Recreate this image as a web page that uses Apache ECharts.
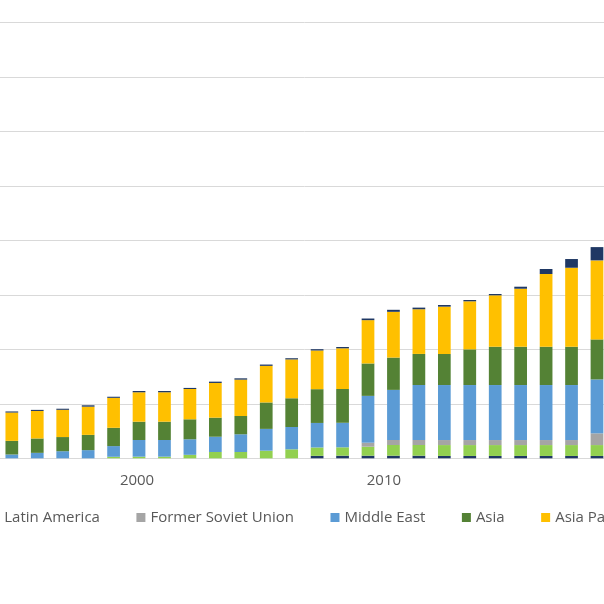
<!DOCTYPE html>
<html>
<head>
<meta charset="utf-8">
<script src="https://cdn.jsdelivr.net/npm/echarts@6/dist/echarts.min.js"></script>
<style>
  html, body { margin: 0; padding: 0; width: 604px; height: 604px; overflow: hidden; background: #ffffff; }
  #chart { position: absolute; left: -200px; top: 0; width: 1400px; height: 604px; }
</style>
</head>
<body>
<div id="chart"></div>
<script>
const years = ['1995','1996','1997','1998','1999','2000','2001','2002','2003','2004','2005','2006',
               '2007','2008','2009','2010','2011','2012','2013','2014','2015','2016','2017','2018'];
const shownYearLabels = ['2000', '2010'];

const europe       = [0,0,0,0,0,0,0,0,0,0,0,0, 4.5,4.8,4.8,4.8,4.8,4.3,4.3,4.3,4.3,4.3,4.3,4.3];
const latinAmerica = [0,0,0,0,2.8,3,3,6.4,11.6,11.6,14,16.5, 15.4,15.4,16.5,19.6,19.6,20,20,20,20,20,20,20];
const formerSoviet = [0,0,0,0,0,0,0,0,0,0,0,0, 0,0,7.3,9.2,9.2,9.2,9.2,9.2,9.2,9.2,9.2,21.5];
const middleEast   = [7,10,13,15,19.6,30.6,30.6,28.5,28,32.5,40,41, 45,45,86,92,101,101,101,101,101,101,101,99];
const asia         = [25,26.4,26,28,33.6,33.6,33.6,36.7,35,33.6,48.5,52.7, 62,62,59.5,59.3,57,57,65.5,70.3,70.3,70.3,70.3,73.5];
const asiaPacific  = [52,50.5,50,51.8,55,54,54,55.6,63.7,66.7,67.2,71.3, 71,74.7,79.5,84,82,86.9,88.2,94.4,106.5,133.5,145,145];
const northAmerica = [2,2,2,2.5,2,2.4,2.4,2,2.4,2.4,2.4,2.2, 2.4,2.4,3,3.7,3,3,2.4,2.4,3.7,9.2,16,24.4];

const seriesDefs = [
  { name: 'Europe',              data: europe,       color: '#203864' },
  { name: 'Latin America',       data: latinAmerica, color: '#92D050' },
  { name: 'Former Soviet Union', data: formerSoviet, color: '#A5A5A5' },
  { name: 'Middle East',         data: middleEast,   color: '#5B9BD5' },
  { name: 'Asia',                data: asia,         color: '#548235' },
  { name: 'Asia Pacific',        data: asiaPacific,  color: '#FFC000' },
  { name: 'North America',       data: northAmerica, color: '#1F3864' }
];

const chart = echarts.init(document.getElementById('chart'), null, { renderer: 'canvas' });
chart.setOption({
  animation: false,
  backgroundColor: '#ffffff',
  textStyle: { fontFamily: 'Open Sans' },
  legend: {
    left: 84.5,
    top: 505,
    width: 1300,
    icon: 'rect',
    itemWidth: 9,
    itemHeight: 9,
    itemGap: 36.5,
    textStyle: { fontFamily: 'Open Sans', fontSize: 15, color: '#595959' },
    data: seriesDefs.map(s => s.name)
  },
  grid: { left: 199.1, right: 590.3, top: 22.5, bottom: 145.7, containLabel: false },
  xAxis: {
    type: 'category',
    data: years,
    axisLine: { lineStyle: { color: '#D9D9D9', width: 1 } },
    axisTick: { show: false },
    axisLabel: {
      interval: (idx, val) => shownYearLabels.includes(val),
      margin: 15,
      fontFamily: 'Open Sans',
      fontSize: 15,
      color: '#595959',
      formatter: v => v === '2010' ? '{b|' + v + '}' : '{a|' + v + '}',
      rich: {
        a: { fontFamily: 'Open Sans', fontSize: 15, color: '#595959', padding: [0, 4, 0, 0] },
        b: { fontFamily: 'Open Sans', fontSize: 15, color: '#595959', padding: [0, 19, 0, 0] }
      }
    }
  },
  yAxis: {
    type: 'value',
    min: 0,
    max: 800,
    interval: 100,
    axisLine: { show: false },
    axisTick: { show: false },
    axisLabel: { show: false },
    splitLine: { lineStyle: { color: '#D9D9D9', width: 1 } }
  },
  series: seriesDefs.map(s => ({
    name: s.name,
    type: 'bar',
    stack: 'total',
    data: s.data,
    barCategoryGap: '50%',
    itemStyle: { color: s.color },
    emphasis: { disabled: true }
  }))
});
</script>
</body>
</html>
